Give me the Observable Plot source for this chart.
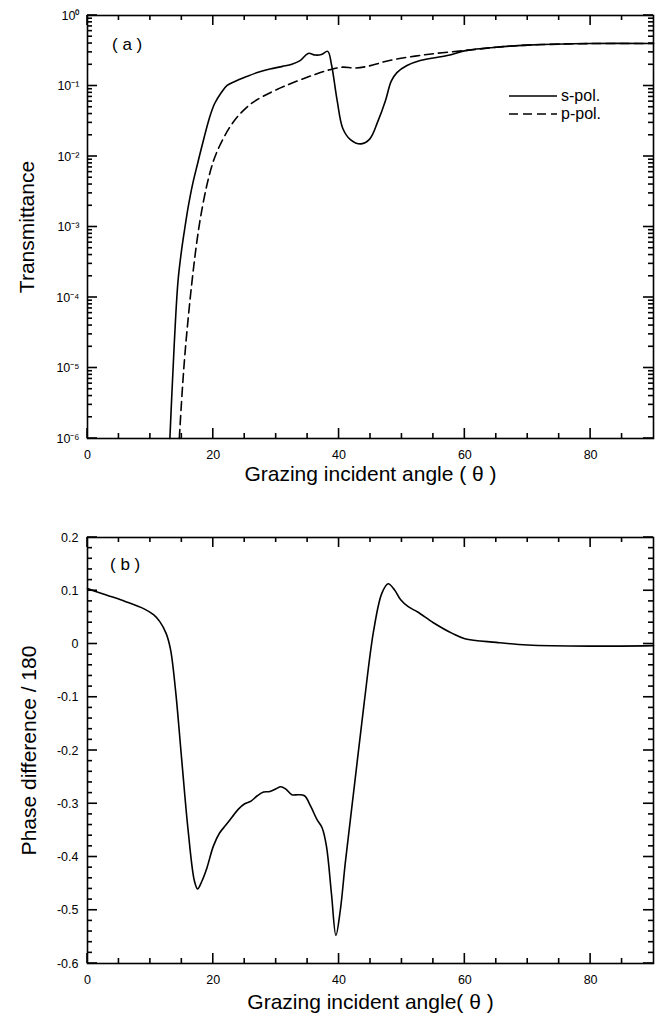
<!DOCTYPE html>
<html>
<head>
<meta charset="utf-8">
<script src="https://cdn.jsdelivr.net/npm/d3@7"></script>
<script src="https://cdn.jsdelivr.net/npm/@observablehq/plot@0.6"></script>
<style>
  body { margin: 0; background: #fff; }
  #wrap { position: relative; width: 665px; height: 1025px; font-family: "Liberation Sans", Arial, Helvetica, sans-serif; color: #000; }
  #wrap svg { display: block; }
  .tag { position: absolute; font-size: 17px; white-space: pre; line-height: 1; }
  .leg { position: absolute; font-size: 16px; line-height: 1; display: flex; align-items: center; }
  .leg svg { display: inline-block; margin-right: 4px; }
</style>
</head>
<body>
<div id="wrap"></div>
<script>
// ---------- data ----------
// (a) Transmittance vs grazing incident angle
const sPolAngle = [13.1, 13.4, 13.8, 14.4, 15.0, 15.5, 16.0, 16.7, 17.5, 18.2, 19.4, 20.2, 21.2, 22.2, 23.5, 25.2, 27.0, 29.0, 31.0, 32.5, 33.8, 35.1, 36.2, 37.2, 38.2, 38.8, 39.7, 40.6, 41.8, 43.5, 44.9, 46.2, 47.4, 48.3, 49.2, 50.8, 52.9, 57.2, 60.3, 65, 70, 80, 90];
const sPolT     = [1.0e-6, 4.0e-6, 2.24e-5, 1.74e-4, 5.0e-4, 1.0e-3, 1.9e-3, 4.0e-3, 7.9e-3, 1.41e-2, 3.55e-2, 5.6e-2, 7.9e-2, 0.102, 0.117, 0.135, 0.155, 0.174, 0.19, 0.204, 0.229, 0.29, 0.275, 0.28, 0.31, 0.20, 0.062, 0.025, 0.0174, 0.0151, 0.0178, 0.032, 0.063, 0.117, 0.155, 0.195, 0.23, 0.27, 0.32, 0.355, 0.38, 0.40, 0.40];
const pPolAngle = [14.6, 14.9, 15.2, 15.5, 15.9, 16.4, 16.9, 17.4, 18.0, 19.0, 20.0, 21.0, 22.5, 24.0, 26.0, 28.0, 31.4, 35.7, 38.5, 40.5, 42.5, 44.5, 48.0, 54.0, 60.3, 65, 70, 80, 90];
const pPolT     = [1.0e-6, 2.8e-6, 7.1e-6, 1.6e-5, 4.0e-5, 1.12e-4, 2.8e-4, 6.3e-4, 1.41e-3, 4.0e-3, 8.5e-3, 1.41e-2, 2.5e-2, 3.8e-2, 5.6e-2, 7.2e-2, 0.10, 0.141, 0.17, 0.185, 0.18, 0.19, 0.23, 0.28, 0.32, 0.355, 0.38, 0.40, 0.40];

// (b) Phase difference / 180 vs grazing incident angle
const phaseAngle = [0, 3, 6, 9, 10.5, 11.5, 12.5, 13.2, 14, 15, 16, 17, 17.5, 18.2, 19, 20, 21, 22, 23, 24, 25, 26, 27, 28, 29, 30, 30.7, 31.5, 32.5, 33.5, 34.5, 35.5, 36.5, 37.3, 38, 38.8, 39.5, 40.2, 41, 42.5, 44, 45.5, 46.8, 47.8, 48.8, 49.8, 51, 52.5, 55, 58, 60, 65, 70, 80, 90];
const phaseValue = [0.104, 0.092, 0.080, 0.066, 0.055, 0.042, 0.020, -0.010, -0.087, -0.22, -0.35, -0.445, -0.46, -0.445, -0.42, -0.38, -0.355, -0.34, -0.325, -0.31, -0.30, -0.295, -0.285, -0.278, -0.277, -0.272, -0.268, -0.272, -0.283, -0.283, -0.285, -0.305, -0.33, -0.345, -0.38, -0.47, -0.547, -0.50, -0.41, -0.26, -0.11, 0.025, 0.095, 0.113, 0.102, 0.083, 0.070, 0.060, 0.040, 0.020, 0.010, 0.003, -0.002, -0.004, -0.003];

// ---------- ticks / labels ----------
const angleTicks = [0, 20, 40, 60, 80];
const angleTickLabels = ["0", "20", "40", "60", "80"];
const angleMinorTicks = [5, 10, 15, 25, 30, 35, 45, 50, 55, 65, 70, 75, 85];
const transTicks = [1e-6, 1e-5, 1e-4, 1e-3, 1e-2, 1e-1, 1];
const transTickLabels = ["10\u207B\u2076", "10\u207B\u2075", "10\u207B\u2074", "10\u207B\u00B3", "10\u207B\u00B2", "10\u207B\u00B9", "10\u2070"];
const transMinorTicks = transTicks.slice(0, -1).flatMap(d => [2,3,4,5,6,7,8,9].map(k => d * k));
const phaseTicks = [-0.6, -0.5, -0.4, -0.3, -0.2, -0.1, 0, 0.1, 0.2];
const phaseTickLabels = ["-0.6", "-0.5", "-0.4", "-0.3", "-0.2", "-0.1", "0", "0.1", "0.2"];
const phaseMinorTicks = d3.range(-30, 11).map(k => k / 50).filter(v => !phaseTicks.some(t => Math.abs(t - v) < 1e-9));

const sPol = sPolAngle.map((a, i) => ({angle: a, T: sPolT[i]}));
const pPol = pPolAngle.map((a, i) => ({angle: a, T: pPolT[i]}));
const phase = phaseAngle.map((a, i) => ({angle: a, v: phaseValue[i]}));

const W = 665, ML = 87, MR = 12;
const FONT = '"Liberation Sans", Arial, Helvetica, sans-serif';
const MAJ = 10, MIN = 5;

// inward ticks on all four sides, positioned with the plot's own scales
function addFrameTicks(svgNode, xMaj, xMin, yMaj, yMin) {
  const sx = svgNode.scale("x"), sy = svgNode.scale("y");
  const x0 = Math.min(...sx.range), x1 = Math.max(...sx.range);
  const yb = Math.max(...sy.range), yt = Math.min(...sy.range);
  const g = d3.select(svgNode).append("g").attr("stroke", "#000").attr("stroke-width", 1.6);
  const vx = (arr, len) => arr.forEach(v => {
    const px = sx.apply(v);
    g.append("line").attr("x1", px).attr("x2", px).attr("y1", yb).attr("y2", yb - len);
    g.append("line").attr("x1", px).attr("x2", px).attr("y1", yt).attr("y2", yt + len);
  });
  const hy = (arr, len) => arr.forEach(v => {
    const py = sy.apply(v);
    g.append("line").attr("y1", py).attr("y2", py).attr("x1", x0).attr("x2", x0 + len);
    g.append("line").attr("y1", py).attr("y2", py).attr("x1", x1).attr("x2", x1 - len);
  });
  vx(xMaj, MAJ); vx(xMin, MIN); hy(yMaj, MAJ); hy(yMin, MIN);
}

// ---------- panel (a) ----------
const H1 = 510, MT1 = 15, MB1 = 72;
const plotA = Plot.plot({
  width: W, height: H1, marginLeft: ML, marginRight: MR, marginTop: MT1, marginBottom: MB1,
  style: {fontFamily: FONT, fontSize: "12px", color: "#000", background: "#fff"},
  x: {domain: [0, 90], axis: null},
  y: {type: "log", domain: [1e-6, 1], axis: null},
  marks: [
    Plot.line(sPol, {x: "angle", y: "T", stroke: "#000", strokeWidth: 1.6, curve: "catmull-rom"}),
    Plot.line(pPol, {x: "angle", y: "T", stroke: "#000", strokeWidth: 1.6, strokeDasharray: "9,5", curve: "catmull-rom"}),
    Plot.frame({stroke: "#000", strokeWidth: 1.6}),
    Plot.axisX(angleTicks, {anchor: "bottom", tickSize: 0, tickPadding: 12, fontSize: 12.5, label: null,
      tickFormat: d => angleTickLabels[angleTicks.indexOf(d)]}),
    Plot.axisY(transTicks, {anchor: "left", tickSize: 0, tickPadding: 8, fontSize: 12.5, label: null,
      tickFormat: d => transTickLabels[transTicks.indexOf(d)]}),
    Plot.text(["Grazing incident angle ( \u03B8 )"], {frameAnchor: "bottom", dy: 36, fontSize: 21, lineAnchor: "middle", textAnchor: "middle"}),
    Plot.text(["Transmittance"], {frameAnchor: "left", dx: -60, rotate: -90, fontSize: 21, lineAnchor: "middle", textAnchor: "middle"})
  ]
});
addFrameTicks(plotA, angleTicks, angleMinorTicks, transTicks, transMinorTicks);

// ---------- panel (b) ----------
const H2 = 515, MT2 = 27, MB2 = 62;
const plotB = Plot.plot({
  width: W, height: H2, marginLeft: ML, marginRight: MR, marginTop: MT2, marginBottom: MB2,
  style: {fontFamily: FONT, fontSize: "12px", color: "#000", background: "#fff"},
  x: {domain: [0, 90], axis: null},
  y: {domain: [-0.6, 0.2], axis: null},
  marks: [
    Plot.line(phase, {x: "angle", y: "v", stroke: "#000", strokeWidth: 1.6, curve: "catmull-rom"}),
    Plot.frame({stroke: "#000", strokeWidth: 1.6}),
    Plot.axisX(angleTicks, {anchor: "bottom", tickSize: 0, tickPadding: 12, fontSize: 12.5, label: null,
      tickFormat: d => angleTickLabels[angleTicks.indexOf(d)]}),
    Plot.axisY(phaseTicks, {anchor: "left", tickSize: 0, tickPadding: 9, fontSize: 12.5, label: null,
      tickFormat: d => phaseTickLabels[phaseTicks.indexOf(d)]}),
    Plot.text(["Grazing incident angle( \u03B8 )"], {frameAnchor: "bottom", dy: 39, fontSize: 21, lineAnchor: "middle", textAnchor: "middle"}),
    Plot.text(["Phase difference / 180"], {frameAnchor: "left", dx: -58, rotate: -90, fontSize: 21, lineAnchor: "middle", textAnchor: "middle"})
  ]
});
addFrameTicks(plotB, angleTicks, angleMinorTicks, phaseTicks, phaseMinorTicks);

const wrap = document.getElementById("wrap");
wrap.appendChild(plotA);
wrap.appendChild(plotB);

// panel tags and legend (HTML overlay)
function addTag(text, left, top) {
  const d = document.createElement("div");
  d.className = "tag"; d.textContent = text;
  d.style.left = left + "px"; d.style.top = top + "px";
  wrap.appendChild(d);
}
addTag("( a )", 112, 36);
addTag("( b )", 110, 556);

function addLegend(label, dash, left, top) {
  const d = document.createElement("div");
  d.className = "leg";
  d.style.left = left + "px"; d.style.top = top + "px";
  const ns = "http://www.w3.org/2000/svg";
  const s = document.createElementNS(ns, "svg");
  s.setAttribute("width", 48); s.setAttribute("height", 10);
  const l = document.createElementNS(ns, "line");
  l.setAttribute("x1", 0); l.setAttribute("x2", 48); l.setAttribute("y1", 5); l.setAttribute("y2", 5);
  l.setAttribute("stroke", "#000"); l.setAttribute("stroke-width", 1.6);
  if (dash) l.setAttribute("stroke-dasharray", dash);
  s.appendChild(l);
  d.appendChild(s);
  const t = document.createElement("span"); t.textContent = label;
  d.appendChild(t);
  wrap.appendChild(d);
}
addLegend("s-pol.", null, 509, 88);
addLegend("p-pol.", "9,5", 509, 106);
</script>
</body>
</html>
